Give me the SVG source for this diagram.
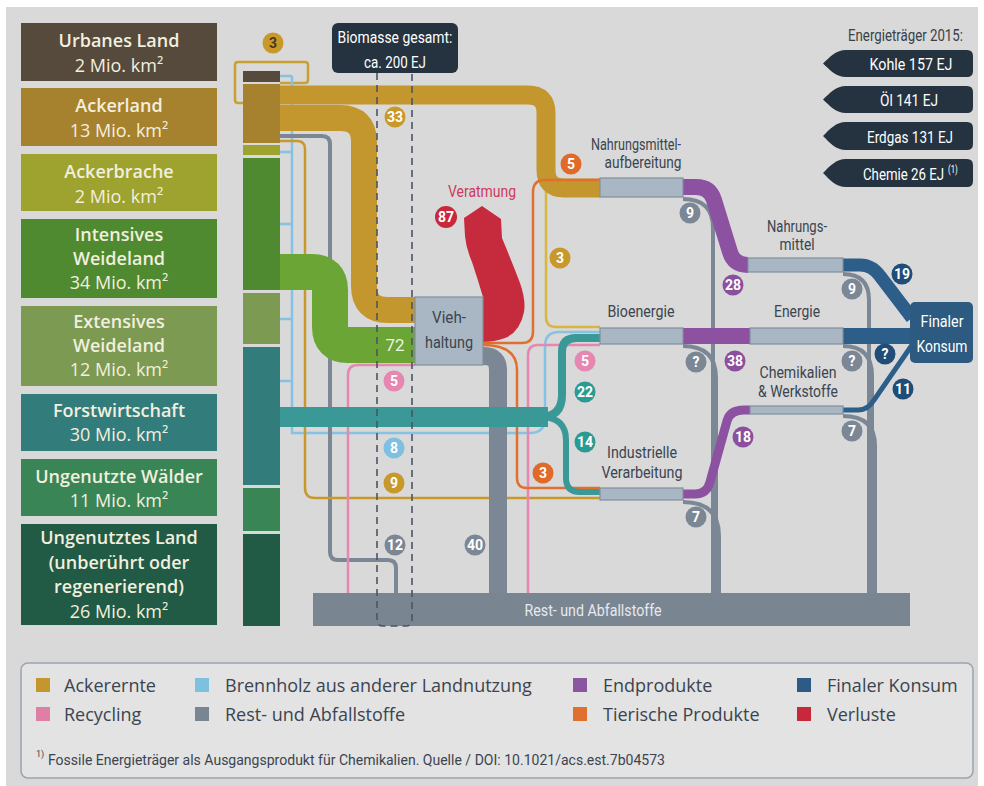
<svg xmlns="http://www.w3.org/2000/svg" width="984" height="786" viewBox="0 0 984 786">
<style>
.lt{font-family:"Open Sans","Noto Sans",sans-serif;font-size:18px;fill:#f2efdf;text-anchor:middle}
.lt .h{font-weight:600}
.lbl{font-family:Roboto,"Liberation Sans",sans-serif;font-size:16px;fill:#3b4450;text-anchor:middle}
.wt{font-family:Roboto,"Liberation Sans",sans-serif;font-size:17px;fill:#ffffff;text-anchor:middle}
.bt{font-family:Roboto,"Liberation Sans",sans-serif;font-size:14px;font-weight:700;fill:#ffffff;text-anchor:middle}
.lg{font-family:"Open Sans","Noto Sans",sans-serif;font-size:18px;fill:#3c4450}
.box{fill:#a9b6c4;stroke:#838f9e;stroke-width:1.2}
.thin{fill:none;stroke-width:2.5}
.band{fill:none}
.gr{fill:none;stroke:#7b8795;stroke-width:4}
.tag{fill:#24333f}
</style>
<rect x="0" y="0" width="984" height="786" fill="#ffffff"/>
<rect x="6" y="7" width="972" height="779" fill="#d8d9d8"/>

<!-- land boxes -->
<g id="node-urbanes"><rect x="21" y="23" width="196" height="58" fill="#554a3b"/>
<text class="lt" x="119" y="47"><tspan class="h">Urbanes Land</tspan></text><text class="lt" x="119" y="72">2 Mio. km²</text></g>
<g id="node-ackerland"><rect x="21" y="88" width="196" height="58" fill="#a7822e"/>
<text class="lt" x="119" y="112"><tspan class="h">Ackerland</tspan></text><text class="lt" x="119" y="137">13 Mio. km²</text></g>
<g id="node-ackerbrache"><rect x="21" y="154" width="196" height="57" fill="#9ea22f"/>
<text class="lt" x="119" y="178"><tspan class="h">Ackerbrache</tspan></text><text class="lt" x="119" y="203">2 Mio. km²</text></g>
<g id="node-intensiv"><rect x="21" y="219" width="196" height="79" fill="#4f8a30"/>
<text class="lt" x="119" y="241"><tspan class="h">Intensives</tspan></text><text class="lt" x="119" y="265"><tspan class="h">Weideland</tspan></text><text class="lt" x="119" y="289">34 Mio. km²</text></g>
<g id="node-extensiv"><rect x="21" y="306" width="196" height="80" fill="#7c9a52"/>
<text class="lt" x="119" y="328"><tspan class="h">Extensives</tspan></text><text class="lt" x="119" y="352"><tspan class="h">Weideland</tspan></text><text class="lt" x="119" y="376">12 Mio. km²</text></g>
<g id="node-forst"><rect x="21" y="394" width="196" height="57" fill="#327d7c"/>
<text class="lt" x="119" y="417"><tspan class="h">Forstwirtschaft</tspan></text><text class="lt" x="119" y="441">30 Mio. km²</text></g>
<g id="node-waelder"><rect x="21" y="459" width="196" height="57" fill="#3a8556"/>
<text class="lt" x="119" y="483"><tspan class="h">Ungenutzte Wälder</tspan></text><text class="lt" x="119" y="507">11 Mio. km²</text></g>
<g id="node-ungenutzt"><rect x="21" y="524" width="196" height="101" fill="#215a45"/>
<text class="lt" x="119" y="544"><tspan class="h">Ungenutztes Land</tspan></text><text class="lt" x="119" y="569"><tspan class="h">(unberührt oder</tspan></text><text class="lt" x="119" y="593"><tspan class="h">regenerierend)</tspan></text><text class="lt" x="119" y="618">26 Mio. km²</text></g>

<!-- land column -->
<g id="land-column">
<rect x="243" y="71" width="37" height="11" fill="#554a3b"/>
<rect x="243" y="84" width="37" height="59" fill="#a7822e"/>
<rect x="243" y="145" width="37" height="10" fill="#9ea22f"/>
<rect x="243" y="158" width="37" height="132" fill="#4f8a30"/>
<rect x="243" y="293" width="37" height="51" fill="#7c9a52"/>
<rect x="243" y="347" width="37" height="138" fill="#327d7c"/>
<rect x="243" y="488" width="37" height="43" fill="#3a8556"/>
<rect x="243" y="534" width="37" height="92" fill="#215a45"/>
</g>

<g id="connectors">
<!-- thin lines -->
<path class="thin" stroke="#c9a032" stroke-width="2" d="M243,103 H238 Q235,103 235,100 V65 Q235,62 238,62 H305 Q308,62 308,65 V80 Q308,83 305,83 H280"/>
<path class="thin" stroke="#86c3e3" d="M280,76 H292 M280,152 H292 M280,224 H292 M280,319 H292 M280,381 H292 M292,76 V433 H530 Q545,433 545,418 V346 Q545,332 559,332 H600"/>
<path class="gr" d="M280,136 H322 Q330,136 330,144 V552 Q330,560 338,560 H388 Q396,560 396,568 V595"/>
<path class="thin" stroke="#c9982a" stroke-width="4" d="M280,141 H297 Q305,141 305,149 V488 Q305,498 315,498 H600"/>
<path class="thin" stroke="#e587b0" d="M348,595 V375 Q348,365 358,365 H415"/>
<path class="thin" stroke="#e587b0" d="M528,595 V355 Q528,345 538,345 H600"/>
<path class="thin" stroke="#d9b640" d="M546,185 V317 Q546,327 556,327 H600"/>
<!-- gray trunks -->
<path class="gr" d="M683,199 Q713,199 713,228 V595"/>
<path class="gr" d="M683,346 Q716,346 716,378 V595"/>
<path class="gr" d="M683,502 Q719,502 719,536 V595"/>
<path class="gr" d="M843,274 Q869,274 869,300 V595"/>
<path class="gr" d="M843,346 Q872,346 872,376 V595"/>
<path class="gr" d="M843,416 Q875,416 875,446 V595"/>
<!-- bands -->
<path class="band" stroke="#c4962e" stroke-width="19" d="M280,95 H528 Q546,95 546,113 V170 Q546,188 564,188 H600"/>
<path class="band" stroke="#c4962e" stroke-width="26" d="M280,118 H340 Q364,118 364,142 V286 Q364,310 388,310 H415"/>
<path class="band" stroke="#6aa535" stroke-width="36" d="M280,272 H312 Q330,272 330,290 V327 Q330,345 348,345 H415"/>
<path class="band" stroke="#7b8795" stroke-width="18" d="M480,356 H484 Q498,356 498,370 V595"/>
<path fill="#c62a3d" d="M483,342 L483,297 Q478,280 472,262 Q466,248 465,236 L464,218 L482,206 L501,219 L502,238 Q512,262 520,283 Q526,300 524,312 Q520,332 505,338 Q494,342 483,342 Z"/>
<path class="thin" stroke="#e07030" d="M483,343 H522 Q533,343 533,332 V192 Q533,180 545,180 H600"/>
<path class="thin" stroke="#e07030" d="M483,345 Q517,345 517,370 V478 Q517,488 527,488 H600"/>
<path class="band" stroke="#3a9896" stroke-width="8" d="M540,417 Q562,417 562,395 V352 Q562,338 576,338 H600"/>
<path class="band" stroke="#3a9896" stroke-width="6" d="M540,417 Q566,417 566,440 V478 Q566,492 580,492 H600"/>
<path class="band" stroke="#3a9896" stroke-width="20" d="M280,417 H548"/>
<path class="band" stroke="#8c52a1" stroke-width="16" d="M683,187 H696 Q710,187 714,200 L730,252 Q734,265 748,265"/>
<rect x="683" y="328" width="67" height="16" fill="#8c52a1"/>
<path class="band" stroke="#8c52a1" stroke-width="9" d="M683,494 H695 Q707,494 710,482 L727,421 Q730,410 744,410 H750"/>
<path class="band" stroke="#2d5e8a" stroke-width="13" d="M843,265 H860 Q872,265 880,276 L912,318"/>
<rect x="843" y="328" width="69" height="16" fill="#2d5e8a"/>
<path class="band" stroke="#2d5e8a" stroke-width="5" d="M843,410 H858 Q868,410 874,400 L912,345"/>
</g>

<!-- process boxes -->
<g id="node-vieh"><rect class="box" x="415" y="297" width="68" height="68"/>
<text class="lbl" x="449" y="323" textLength="34" lengthAdjust="spacingAndGlyphs">Vieh-</text>
<text class="lbl" x="449" y="348" textLength="48" lengthAdjust="spacingAndGlyphs">haltung</text></g>
<g id="node-nahrungsaufb"><rect class="box" x="600" y="178" width="83" height="19"/>
<text class="lbl" x="636" y="150" textLength="90" lengthAdjust="spacingAndGlyphs">Nahrungsmittel-</text>
<text class="lbl" x="643" y="168" textLength="77" lengthAdjust="spacingAndGlyphs">aufbereitung</text></g>
<g id="node-nahrungsmittel"><rect class="box" x="748" y="258" width="95" height="14"/>
<text class="lbl" x="797" y="232" textLength="60" lengthAdjust="spacingAndGlyphs">Nahrungs-</text>
<text class="lbl" x="797" y="250" textLength="35" lengthAdjust="spacingAndGlyphs">mittel</text></g>
<g id="node-bioenergie"><rect class="box" x="600" y="328" width="83" height="16"/>
<text class="lbl" x="641" y="317" textLength="67" lengthAdjust="spacingAndGlyphs">Bioenergie</text></g>
<g id="node-energie"><rect class="box" x="750" y="328" width="93" height="16"/>
<text class="lbl" x="797" y="317" textLength="46" lengthAdjust="spacingAndGlyphs">Energie</text></g>
<g id="node-chemikalien"><rect class="box" x="750" y="406" width="93" height="8"/>
<text class="lbl" x="798" y="378" textLength="77" lengthAdjust="spacingAndGlyphs">Chemikalien</text>
<text class="lbl" x="798" y="397" textLength="80" lengthAdjust="spacingAndGlyphs">&amp; Werkstoffe</text></g>
<g id="node-industrielle"><rect class="box" x="600" y="488" width="83" height="12"/>
<text class="lbl" x="642" y="458" textLength="70" lengthAdjust="spacingAndGlyphs">Industrielle</text>
<text class="lbl" x="642" y="478" textLength="81" lengthAdjust="spacingAndGlyphs">Verarbeitung</text></g>
<g id="node-finaler"><rect x="910" y="302" width="63" height="61" rx="5" fill="#2c5a80"/>
<text class="wt" x="942" y="327" textLength="43" lengthAdjust="spacingAndGlyphs">Finaler</text>
<text class="wt" x="942" y="352" textLength="51" lengthAdjust="spacingAndGlyphs">Konsum</text></g>
<g id="node-rest"><rect x="313" y="593" width="597" height="33" fill="#7a8592"/>
<text x="593" y="616" font-family="Roboto, 'Liberation Sans', sans-serif" font-size="16" fill="#e6e9ee" text-anchor="middle" textLength="137" lengthAdjust="spacingAndGlyphs">Rest- und Abfallstoffe</text></g>

<!-- biomasse -->
<g id="node-biomasse">
<path d="M377,73 V620 Q377,626 383,626 H406 Q412,626 412,620 V73" fill="none" stroke="#4b5563" stroke-width="1.6" stroke-dasharray="7 5"/>
<rect x="332" y="23" width="126" height="50" rx="6" fill="#24333f"/>
<text class="wt" x="395" y="43" textLength="115" lengthAdjust="spacingAndGlyphs">Biomasse gesamt:</text>
<text class="wt" x="395" y="68" textLength="62" lengthAdjust="spacingAndGlyphs">ca. 200 EJ</text>
</g>

<!-- labels -->
<text x="482" y="197" font-family="Roboto, 'Liberation Sans', sans-serif" font-size="17" fill="#cf3a5e" text-anchor="middle" textLength="68" lengthAdjust="spacingAndGlyphs">Veratmung</text>
<text x="395" y="351" font-family="Roboto, 'Liberation Sans', sans-serif" font-size="16" fill="#eef4e2" text-anchor="middle" textLength="19" lengthAdjust="spacingAndGlyphs">72</text>

<!-- badges -->
<g id="badges">
<circle cx="273" cy="43" r="10.5" fill="#c9982a"/><text class="bt" x="273" y="48" style="fill:#4a3a1a">3</text>
<circle cx="395" cy="117" r="10.5" fill="#c9982a"/><text class="bt" x="395" y="122">33</text>
<circle cx="571" cy="164" r="10.5" fill="#e06a2a"/><text class="bt" x="571" y="169">5</text>
<circle cx="446" cy="217" r="11" fill="#c8283c"/><text class="bt" x="446" y="222">87</text>
<circle cx="560" cy="258" r="10.5" fill="#c9982a"/><text class="bt" x="560" y="263">3</text>
<circle cx="690" cy="213" r="10.5" fill="#7b8795"/><text class="bt" x="690" y="218">9</text>
<circle cx="733" cy="285" r="10.5" fill="#8c4f9e"/><text class="bt" x="733" y="290">28</text>
<circle cx="902" cy="274" r="10.5" fill="#204c78"/><text class="bt" x="902" y="279">19</text>
<circle cx="852" cy="289" r="10.5" fill="#7b8795"/><text class="bt" x="852" y="294">9</text>
<circle cx="696" cy="362" r="10.5" fill="#7b8795"/><text class="bt" x="696" y="367">?</text>
<circle cx="735" cy="361" r="10.5" fill="#8c4f9e"/><text class="bt" x="735" y="366">38</text>
<circle cx="852" cy="361" r="10.5" fill="#7b8795"/><text class="bt" x="852" y="366">?</text>
<circle cx="885" cy="354" r="10.5" fill="#204c78"/><text class="bt" x="885" y="359">?</text>
<circle cx="903" cy="389" r="10.5" fill="#204c78"/><text class="bt" x="903" y="394">11</text>
<circle cx="743" cy="437" r="10.5" fill="#8c4f9e"/><text class="bt" x="743" y="442">18</text>
<circle cx="852" cy="431" r="10.5" fill="#7b8795"/><text class="bt" x="852" y="436">7</text>
<circle cx="696" cy="517" r="10.5" fill="#7b8795"/><text class="bt" x="696" y="522">7</text>
<circle cx="394" cy="381" r="10.5" fill="#e587b0"/><text class="bt" x="394" y="386">5</text>
<circle cx="585" cy="361" r="10.5" fill="#e587b0"/><text class="bt" x="585" y="366">5</text>
<circle cx="585" cy="392" r="10.5" fill="#2a9b94"/><text class="bt" x="585" y="397">22</text>
<circle cx="585" cy="442" r="10.5" fill="#2a9b94"/><text class="bt" x="585" y="447">14</text>
<circle cx="543" cy="473" r="10.5" fill="#e06a2a"/><text class="bt" x="543" y="478">3</text>
<circle cx="394" cy="448" r="10.5" fill="#7ec0e0"/><text class="bt" x="394" y="453">8</text>
<circle cx="394" cy="483" r="10.5" fill="#c9982a"/><text class="bt" x="394" y="488">9</text>
<circle cx="395" cy="545" r="10.5" fill="#7b8795"/><text class="bt" x="395" y="550">12</text>
<circle cx="475" cy="545" r="10.5" fill="#7b8795"/><text class="bt" x="475" y="550">40</text>
</g>

<!-- Energietraeger -->
<g id="energietraeger">
<text transform="translate(848,41) scale(0.78,1)" x="0" y="0" font-family="Roboto, 'Liberation Sans', sans-serif" font-size="17" fill="#3a3f48">Energieträger 2015:</text>
<path class="tag" d="M823,63.5 C830,57 836,50 846,50 H967 Q973,50 973,56 V71 Q973,77 967,77 H846 C836,77 830,70 823,63.5 Z"/>
<text class="wt" x="911" y="70" textLength="83" lengthAdjust="spacingAndGlyphs">Kohle 157 EJ</text>
<path class="tag" d="M823,99.5 C830,93 836,86 846,86 H967 Q973,86 973,92 V107 Q973,113 967,113 H846 C836,113 830,106 823,99.5 Z"/>
<text class="wt" x="909" y="106" textLength="58" lengthAdjust="spacingAndGlyphs">Öl 141 EJ</text>
<path class="tag" d="M823,136 C830,129 836,122 846,122 H967 Q973,122 973,128 V144 Q973,150 967,150 H846 C836,150 830,143 823,136 Z"/>
<text class="wt" x="910" y="143" textLength="86" lengthAdjust="spacingAndGlyphs">Erdgas 131 EJ</text>
<path class="tag" d="M823,173 C830,166 836,159 846,159 H967 Q973,159 973,165 V181 Q973,187 967,187 H846 C836,187 830,180 823,173 Z"/>
<text transform="translate(863,180) scale(0.78,1)" x="0" y="0" font-family="Roboto, 'Liberation Sans', sans-serif" font-size="17" fill="#ffffff">Chemie 26 EJ<tspan dx="5" dy="-7" font-size="10">(1)</tspan></text>
</g>

<!-- legend -->
<g id="legend">
<rect x="21" y="663" width="952" height="115" rx="7" fill="#e2e3e2" stroke="#9ba4ae" stroke-width="1.5"/>
<rect x="36" y="678" width="14" height="14" fill="#c4962e"/><text class="lg" x="64" y="692">Ackerernte</text>
<rect x="36" y="707" width="14" height="14" fill="#df7fa5"/><text class="lg" x="64" y="721">Recycling</text>
<rect x="195" y="678" width="14" height="14" fill="#7ec0e0"/><text class="lg" x="225" y="692">Brennholz aus anderer Landnutzung</text>
<rect x="195" y="707" width="14" height="14" fill="#7a8592"/><text class="lg" x="225" y="721">Rest- und Abfallstoffe</text>
<rect x="573" y="678" width="14" height="14" fill="#8a56a0"/><text class="lg" x="603" y="692">Endprodukte</text>
<rect x="573" y="707" width="14" height="14" fill="#e07030"/><text class="lg" x="603" y="721">Tierische Produkte</text>
<rect x="797" y="678" width="14" height="14" fill="#2b5b86"/><text class="lg" x="827" y="692">Finaler Konsum</text>
<rect x="797" y="707" width="14" height="14" fill="#c8283c"/><text class="lg" x="827" y="721">Verluste</text>
<text x="36" y="757" font-family="Roboto, 'Liberation Sans', sans-serif" font-size="9" fill="#3c4450">1)</text>
<text x="48" y="765" font-family="Roboto, 'Liberation Sans', sans-serif" font-size="15" fill="#3c4450" textLength="617" lengthAdjust="spacingAndGlyphs">Fossile Energieträger als Ausgangsprodukt für Chemikalien. Quelle / DOI: 10.1021/acs.est.7b04573</text>
</g>
</svg>
